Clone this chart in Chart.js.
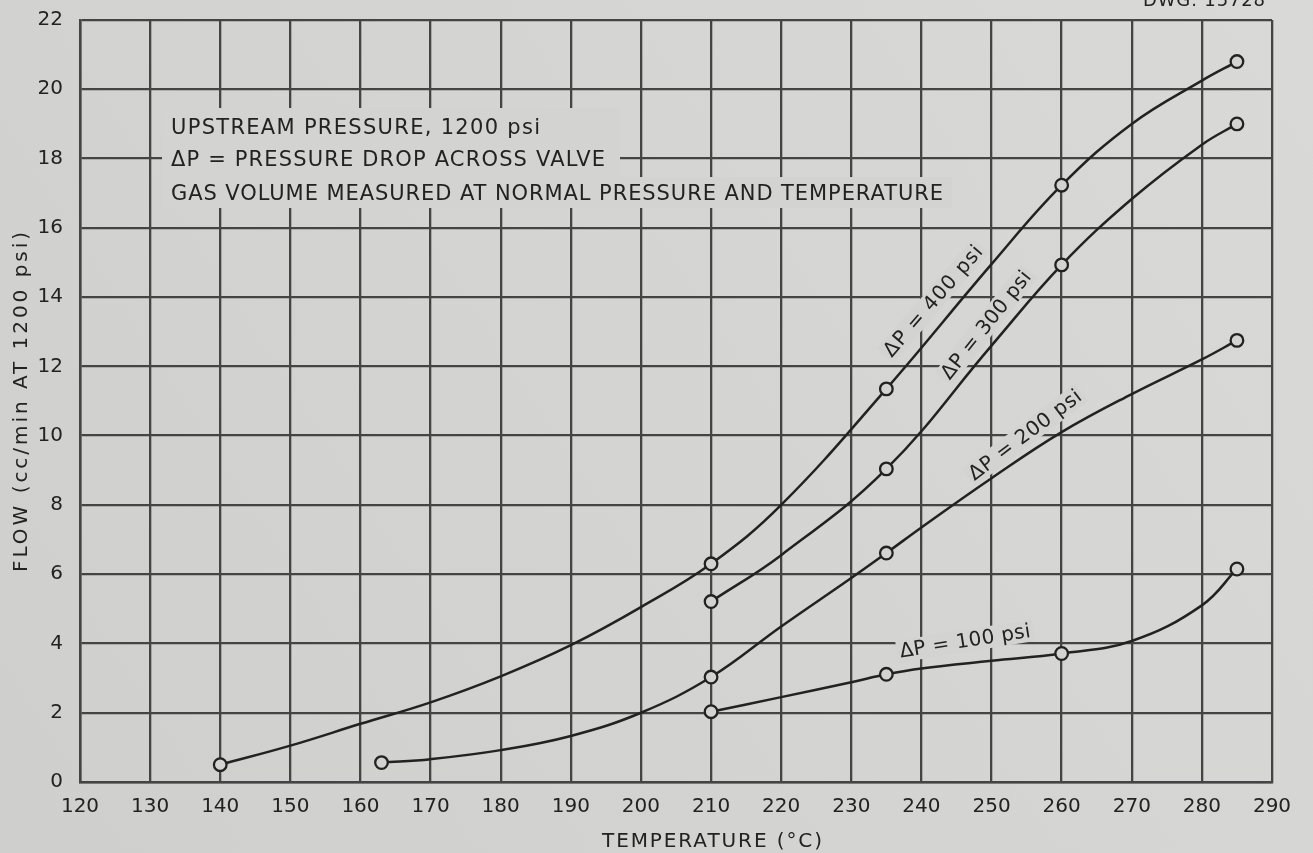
<!DOCTYPE html>
<html><head><meta charset="utf-8">
<script src="https://cdn.jsdelivr.net/npm/chart.js@4.4.1/dist/chart.umd.min.js"></script>
<style>html,body{margin:0;padding:0;background:#d3d3d1;}#wrap{width:1313px;height:853px;}</style>
</head><body><div id="wrap"><canvas id="c" width="1313" height="853"></canvas></div>
<script>
// ---- tick labels ----
const xTicks = [120,130,140,150,160,170,180,190,200,210,220,230,240,250,260,270,280,290];
const yTicks = [0,2,4,6,8,10,12,14,16,18,20,22];

// ---- curves (temperature °C, flow cc/min) ----
const curveT400 = [140,150,160,170,180,190,200,210,220,235,250,260,270,280,285];
const curveF400 = [0.5,1.05,1.68,2.3,3.05,3.95,5.05,6.3,8.0,11.35,14.95,17.23,19.0,20.25,20.8];
const curveT300 = [210,220,235,250,260,270,280,285];
const curveF300 = [5.21,6.55,9.04,12.6,14.93,16.83,18.4,19.0];
const curveT200 = [163,170,180,190,200,210,220,230,235,240,250,260,270,280,285];
const curveF200 = [0.56,0.66,0.92,1.33,2.0,3.03,4.49,5.89,6.61,7.35,8.77,10.1,11.2,12.2,12.75];
const curveT100 = [210,220,230,235,240,250,260,270,280,285];
const curveF100 = [2.03,2.45,2.88,3.11,3.28,3.5,3.71,4.07,5.1,6.15];

// ---- measured points (circles) ----
const markT400 = [140,210,235,260,285];
const markF400 = [0.5,6.3,11.35,17.23,20.8];
const markT300 = [210,235,260,285];
const markF300 = [5.21,9.04,14.93,19.0];
const markT200 = [163,210,235,285];
const markF200 = [0.56,3.03,6.61,12.75];
const markT100 = [210,235,260,285];
const markF100 = [2.03,3.11,3.71,6.15];

// ---- texts ----
const xTitle = 'TEMPERATURE (°C)';
const yTitle = 'FLOW (cc/min AT 1200 psi)';
const noteLines = ['UPSTREAM PRESSURE, 1200 psi','ΔP = PRESSURE DROP ACROSS VALVE','GAS VOLUME MEASURED AT NORMAL PRESSURE AND TEMPERATURE'];
const seriesLabels = ['ΔP = 400 psi','ΔP = 300 psi','ΔP = 200 psi','ΔP = 100 psi'];
const dwgText = 'DWG. 15728';

const PAPER = '#d3d3d1';
const INK = '#222222';
const GRID = '#444444';
const FONT = '"DejaVu Sans", sans-serif';

const pts = (xs, ys) => xs.map((x, i) => ({x, y: ys[i]}));

function curve(xs, ys) {
  return {type:'line', data: pts(xs, ys), borderColor: INK, borderWidth: 2.5,
    pointRadius: 0, tension: 0.4, fill: false, order: 2};
}
function marks(xs, ys) {
  return {type:'line', data: pts(xs, ys), showLine: false, pointRadius: 6.3,
    pointBorderWidth: 2.3, pointBorderColor: INK, pointBackgroundColor: PAPER,
    pointStyle: 'circle', order: 0};
}

function fitText(ctx, txt, x, y, w, align) {
  ctx.letterSpacing = '0px';
  const m = ctx.measureText(txt).width;
  const ls = (w - m) / Math.max(1, txt.length - 1);
  ctx.letterSpacing = ls + 'px';
  ctx.textAlign = 'left';
  const x0 = align === 'center' ? x - w / 2 : x;
  ctx.fillText(txt, x0, y);
  ctx.letterSpacing = '0px';
}

const paper = {
  id: 'paper',
  beforeDraw(chart) {
    const ctx = chart.ctx;
    const g = ctx.createLinearGradient(0, 853, 1313, 0);
    g.addColorStop(0, '#cfcfcd');
    g.addColorStop(1, '#d9d9d7');
    ctx.save();
    ctx.fillStyle = g;
    ctx.fillRect(0, 0, chart.width, chart.height);
    ctx.restore();
  }
};

const labels = {
  id: 'labels',
  beforeDatasetsDraw(chart) {
    const ctx = chart.ctx;
    ctx.save();
    // note block background (hides grid)
    ctx.fillStyle = PAPER;
    ctx.fillRect(162, 108, 458, 70);
    ctx.fillRect(162, 177, 790, 31);
    ctx.fillStyle = INK;
    ctx.font = '21px ' + FONT;
    ctx.textBaseline = 'middle';
    fitText(ctx, noteLines[0], 171, 129, 369, 'left');
    fitText(ctx, noteLines[1], 171, 161, 434, 'left');
    fitText(ctx, noteLines[2], 171, 195, 772, 'left');

    // rotated series labels
    const rl = [
      {t: seriesLabels[0], x: 933, y: 301, a: -49, w: 140},
      {t: seriesLabels[1], x: 986, y: 325, a: -51.5, w: 132},
      {t: seriesLabels[2], x: 1025, y: 435, a: -37, w: 136},
      {t: seriesLabels[3], x: 965, y: 641, a: -9, w: 132}
    ];
    ctx.font = '20px ' + FONT;
    rl.forEach(l => {
      ctx.save();
      ctx.translate(l.x, l.y);
      ctx.rotate(l.a * Math.PI / 180);
      ctx.fillStyle = PAPER;
      ctx.fillRect(-l.w / 2 - 3, -11, l.w + 6, 22);
      ctx.fillStyle = INK;
      ctx.textBaseline = 'middle';
      fitText(ctx, l.t, 0, 1, l.w, 'center');
      ctx.restore();
    });

    // axis titles
    ctx.font = '20px ' + FONT;
    ctx.textBaseline = 'middle';
    fitText(ctx, xTitle, 712, 842, 220, 'center');
    ctx.save();
    ctx.translate(22, 402);
    ctx.rotate(-Math.PI / 2);
    fitText(ctx, yTitle, 0, 0, 340, 'center');
    ctx.restore();

    // drawing number (cut off at top edge)
    ctx.font = '18px ' + FONT;
    ctx.textBaseline = 'alphabetic';
    fitText(ctx, dwgText, 1143, 6, 122, 'left');
    ctx.restore();
  }
};

new Chart(document.getElementById('c'), {
  type: 'line',
  data: {
    datasets: [
      curve(curveT400, curveF400), curve(curveT300, curveF300),
      curve(curveT200, curveF200), curve(curveT100, curveF100),
      marks(markT400, markF400), marks(markT300, markF300),
      marks(markT200, markF200), marks(markT100, markF100)
    ]
  },
  options: {
    responsive: false, animation: false, devicePixelRatio: 1,
    layout: {padding: {top: 20, right: 41, left: 0, bottom: 0}},
    plugins: {legend: {display: false}, tooltip: {enabled: false}},
    scales: {
      x: {
        type: 'linear', min: 120, max: 290,
        afterBuildTicks: s => { s.ticks = xTicks.map(v => ({value: v})); },
        afterFit: s => { s.height = 71; s.paddingLeft = 0; s.paddingRight = 0; },
        grid: {color: GRID, lineWidth: 2.3, drawTicks: false},
        border: {color: GRID, width: 2.5},
        ticks: {color: INK, font: {family: FONT, size: 20}, padding: 13, maxRotation: 0, autoSkip: false}
      },
      y: {
        type: 'linear', min: 0, max: 22,
        afterBuildTicks: s => { s.ticks = yTicks.map(v => ({value: v})); },
        afterFit: s => { s.width = 80; s.paddingTop = 0; s.paddingBottom = 0; },
        grid: {color: GRID, lineWidth: 2.3, drawTicks: false},
        border: {color: GRID, width: 2.5},
        ticks: {color: INK, font: {family: FONT, size: 20}, padding: 17, autoSkip: false}
      }
    }
  },
  plugins: [paper, labels]
});
</script></body></html>
